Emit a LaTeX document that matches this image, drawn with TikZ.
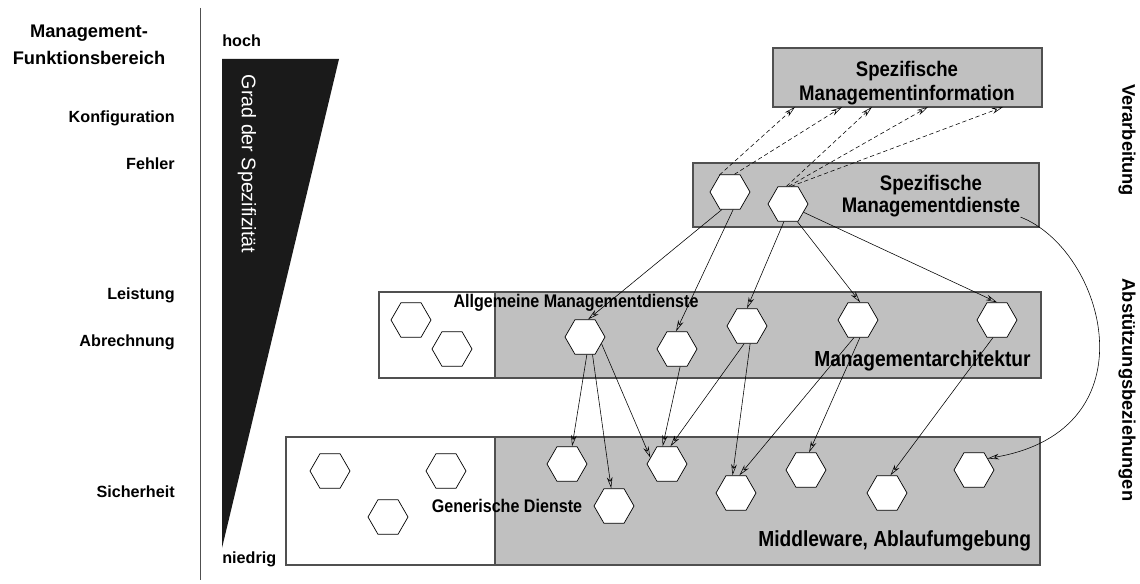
\documentclass[tikz,border=0pt]{standalone}
\usepackage{fontspec}
\setmainfont{Liberation Sans}
\newfontfamily\narrowfont{Liberation Sans}[FakeStretch=0.88]
\usetikzlibrary{arrows.meta,shapes.geometric}
\definecolor{boxgray}{RGB}{192,192,192}
\definecolor{framegray}{RGB}{80,80,80}
\definecolor{wedge}{RGB}{26,26,26}
\begin{document}
\begin{tikzpicture}
	[x=0.025cm, y=-0.025cm,
	hexa/.style = {draw, regular polygon, regular polygon sides=6, minimum size=1cm, inner sep=0pt, fill=white, line width=0.5pt},
	gbox/.style = {draw=framegray, fill=boxgray, line width=0.8pt},
	wbox/.style = {draw=framegray, fill=white, line width=0.8pt},
	axis/.style = {font=\bfseries\fontsize{11.5}{13}\selectfont, inner sep=0pt},
	boxtext/.style = {font=\narrowfont\bfseries\fontsize{15}{17}\selectfont, inner sep=0pt, align=center},
	small/.style = {font=\narrowfont\bfseries\fontsize{13}{15}\selectfont, inner sep=0pt},
	uses/.style = {-{Stealth[open, length=8pt, width=4pt]}, line width=0.4pt},
	flow/.style = {uses, dash pattern=on 3pt off 2pt}]
\useasboundingbox (0,0) rectangle (1140,584);
% left axis
\draw[framegray, line width=0.6pt] (200,8) -- (200,580);
\node[font=\bfseries\fontsize{13}{19}\selectfont, align=center, inner sep=0pt] (title) at (89,45) {Management-\\Funktionsbereich};
\node[axis, anchor=base east] (konf) at (175,123) {Konfiguration};
\node[axis, anchor=base east] (fehl) at (175,170) {Fehler};
\node[axis, anchor=base east] (leis) at (175,300) {Leistung};
\node[axis, anchor=base east] (abre) at (175,347) {Abrechnung};
\node[axis, anchor=base east] (sich) at (175,497) {Sicherheit};
% wedge
\fill[wedge] (222,59) -- (339,59) -- (222,548) -- cycle;
\node[axis, anchor=base west] (hoch) at (222,47) {hoch};
\node[axis, anchor=base west] (nied) at (222,563) {niedrig};
\node[rotate=-90, text=white, inner sep=0pt, font=\fontsize{14}{16}\selectfont] (grad) at (247,164) {Grad der Spezifizität};
% right side
\node[rotate=-90, inner sep=0pt, font=\bfseries\fontsize{13}{15}\selectfont] (verarb) at (1127,140) {Verarbeitung};
\node[rotate=-90, inner sep=0pt, font=\bfseries\fontsize{13}{15}\selectfont] (abst) at (1127,390) {Abstützungsbeziehungen};
% boxes
\draw[gbox] (773,48) rectangle (1042,107);
\node[boxtext] (info) at (907,83) {Spezifische\\Managementinformation};
\draw[gbox] (693,163) rectangle (1039,227);
\node[boxtext, font=\narrowfont\bfseries\fontsize{15}{15.5}\selectfont] (sdtext) at (931,196) {Spezifische\\Managementdienste};
\draw[wbox] (379,292) rectangle (495,378);
\draw[gbox] (495,292) rectangle (1041,378);
\node[small, anchor=base] (amd) at (576,308) {Allgemeine Managementdienste};
\node[boxtext, font=\narrowfont\bfseries\fontsize{15.5}{17}\selectfont, anchor=base west] (march) at (814,366) {Managementarchitektur};
\draw[wbox] (286,437) rectangle (495,565);
\draw[gbox] (495,437) rectangle (1040,565);
\node[small, anchor=base] (gen) at (507,512) {Generische Dienste};
\node[boxtext, font=\narrowfont\bfseries\fontsize{15.5}{17}\selectfont, anchor=base west] (mw) at (758,546) {Middleware, Ablaufumgebung};
% hexagons
\node[hexa] (h1) at (730,192) {};
\node[hexa] (h2) at (788,204) {};
\node[hexa] (w1) at (411,320) {};
\node[hexa] (w2) at (452,349) {};
\node[hexa] (a1) at (585,337) {};
\node[hexa] (a2) at (677,349) {};
\node[hexa] (a3) at (747,326) {};
\node[hexa] (a4) at (858,320) {};
\node[hexa] (a5) at (997,320) {};
\node[hexa] (w3) at (330,471) {};
\node[hexa] (w4) at (446,471) {};
\node[hexa] (w5) at (388,517) {};
\node[hexa] (b1) at (567,464) {};
\node[hexa] (b2) at (614,506) {};
\node[hexa] (b3) at (667,464) {};
\node[hexa] (b4) at (736,493) {};
\node[hexa] (b5) at (806,470) {};
\node[hexa] (b6) at (887,493) {};
\node[hexa] (b7) at (974,470) {};
% information flow
\coordinate (i1) at (795,107);
\coordinate (i2) at (842,107);
\coordinate (i3) at (872,107);
\coordinate (i4) at (928,107);
\coordinate (i5) at (1003,107);
\draw[flow] (h1.122) -- (i1);
\draw[flow] (h1.76) -- (i2);
\draw[flow] (h2.95) -- (i3);
\draw[flow] (h2.88) -- (i4);
\draw[flow] (h2.80) -- (i5);
% dependencies
\draw[uses] (h1.-115) -- (a1.80);
\draw[uses] (h1.-80) -- (a2.93);
\draw[uses] (h2.-103) -- (a3.90);
\draw[uses] (h2.-62) -- (a4.83);
\draw[uses] (h2.-28) -- (a5.90);
\draw[uses] (a1.-84) -- (b1.74);
\draw[uses] (a1.-67) -- (b2.99);
\draw[uses] (a1.-22) -- (b3.159);
\draw[uses] (a2.-80) -- (b3.104);
\draw[uses] (a3.-99) -- (b3.79);
\draw[uses] (a3.-80) -- (b4.101);
\draw[uses] (a4.-103) -- (b4.79);
\draw[uses] (a4.-84) -- (b5.80);
\draw[uses] (a5.-103) -- (b6.79);
\draw[uses] (sdtext.south east) .. controls (1105,250) and (1155,430) .. (b7.40);
\end{tikzpicture}
\end{document}
